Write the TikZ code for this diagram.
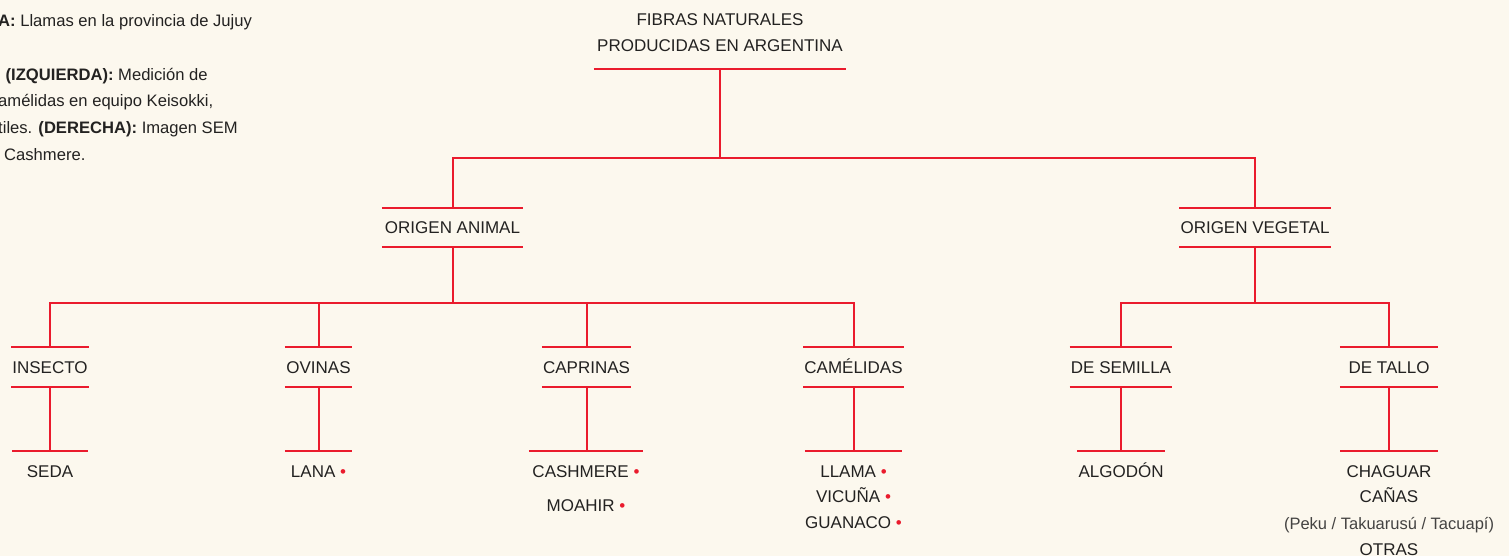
\documentclass[tikz,border=0pt]{standalone}
\usepackage{fontspec}
\setmainfont{Liberation Sans}
\usepackage{tikz}
\usetikzlibrary{positioning}
\definecolor{fondo}{HTML}{FCF8EE}
\definecolor{rojo}{HTML}{EA1B2D}
\definecolor{texto}{HTML}{232221}
\newcommand{\marca}{\ \textcolor{rojo}{•}}

\begin{document}
\begin{tikzpicture}[x=1pt, y=-1pt,
		linea/.style={draw=rojo, line width=2pt},
		rubro/.style={text=texto, font=\fontsize{17}{20}\selectfont, text height=12.2pt, text depth=0pt, inner xsep=1pt, inner ysep=13.65pt}]
	\useasboundingbox (0,0) rectangle (1509,556);
	\fill[fondo] (0,0) rectangle (1509,556);
	\coordinate (nivel1) at (0,158);
	\coordinate (nivel2) at (0,303);

	\node[anchor=north west, inner sep=0pt, align=left, text=texto, font=\fontsize{16.6}{26.7}\selectfont] (pie) at (-2,14.6)
		{\textbf{A:} Llamas en la provincia de Jujuy\\[26.7pt]\hspace*{7.5pt}\textbf{(IZQUIERDA):} Medición de\\amélidas en equipo Keisokki,\\tiles. \textbf{(DERECHA):} Imagen SEM\\\hspace*{6pt}Cashmere.};

	\node[rubro] (titulo) at (720,19.5) {FIBRAS NATURALES};
	\node[rubro, inner ysep=17.4pt, minimum width=252pt] (subtitulo) at (720,45.5) {PRODUCIDAS EN ARGENTINA};

	\node[rubro, minimum width=141pt] (animal) at (452.5,227.5) {ORIGEN ANIMAL};
	\node[rubro, minimum width=148pt] (vegetal) at (1255,227.5) {ORIGEN VEGETAL};

	\node[rubro, minimum width=75pt] (insecto) at (50,367) {INSECTO};
	\node[rubro, minimum width=67pt] (ovinas) at (318.5,367) {OVINAS};
	\node[rubro, minimum width=87pt] (caprinas) at (586.5,367) {CAPRINAS};
	\node[rubro, minimum width=97pt] (camelidas) at (853.5,367) {CAMÉLIDAS};
	\node[rubro, minimum width=98pt] (semilla) at (1121,367) {DE SEMILLA};
	\node[rubro, minimum width=98pt] (tallo) at (1389,367) {DE TALLO};

	\node[rubro, minimum width=75pt] (seda) at (50,471) {SEDA};
	\node[rubro, minimum width=67pt] (lana) at (318.5,471) {LANA\marca};
	\node[rubro, minimum width=114pt] (cashmere) at (586,471) {CASHMERE\marca};
	\node[rubro] (moahir) at ([yshift=-34.5pt]cashmere.center) {MOAHIR\marca};
	\node[rubro, minimum width=97pt] (llama) at (853.5,471) {LLAMA\marca};
	\node[rubro] (vicuna) at ([yshift=-25pt]llama.center) {VICUÑA\marca};
	\node[rubro] (guanaco) at ([yshift=-26.5pt]vicuna.center) {GUANACO\marca};
	\node[rubro, minimum width=86pt] (algodon) at (1121,471) {ALGODÓN};
	\node[rubro, minimum width=97pt] (chaguar) at (1389,471) {CHAGUAR};
	\node[rubro] (canas) at ([yshift=-25.5pt]chaguar.center) {CAÑAS};
	\node[rubro, text=texto!85, font=\fontsize{16.5}{20}\selectfont] (peku) at ([yshift=-26.5pt]canas.center) {(Peku / Takuarusú / Tacuapí)};
	\node[rubro] (otras) at ([yshift=-26pt]peku.center) {OTRAS};

	\draw[linea] (subtitulo.south west) -- (subtitulo.south east);
	\foreach \n in {animal,vegetal,insecto,ovinas,caprinas,camelidas,semilla,tallo}
		\draw[linea] (\n.north west) -- (\n.north east) (\n.south west) -- (\n.south east);
	\foreach \n in {seda,lana,cashmere,llama,algodon,chaguar}
		\draw[linea] (\n.north west) -- (\n.north east);

	\draw[linea] (subtitulo.south) -- (subtitulo.south |- nivel1);
	\draw[linea] (animal.north) |- (subtitulo.south |- nivel1) -| (vegetal.north);
	\draw[linea] (animal.south) -- (animal.south |- nivel2);
	\draw[linea] (vegetal.south) -- (vegetal.south |- nivel2);
	\foreach \n in {insecto,ovinas,caprinas,camelidas}
		\draw[linea] (\n.north) |- (animal.south |- nivel2);
	\foreach \n in {semilla,tallo}
		\draw[linea] (\n.north) |- (vegetal.south |- nivel2);
	\foreach \a/\b in {insecto/seda,ovinas/lana,caprinas/cashmere,camelidas/llama,semilla/algodon,tallo/chaguar}
		\draw[linea] (\a.south) -- (\a.south |- \b.north);
\end{tikzpicture}
\end{document}
